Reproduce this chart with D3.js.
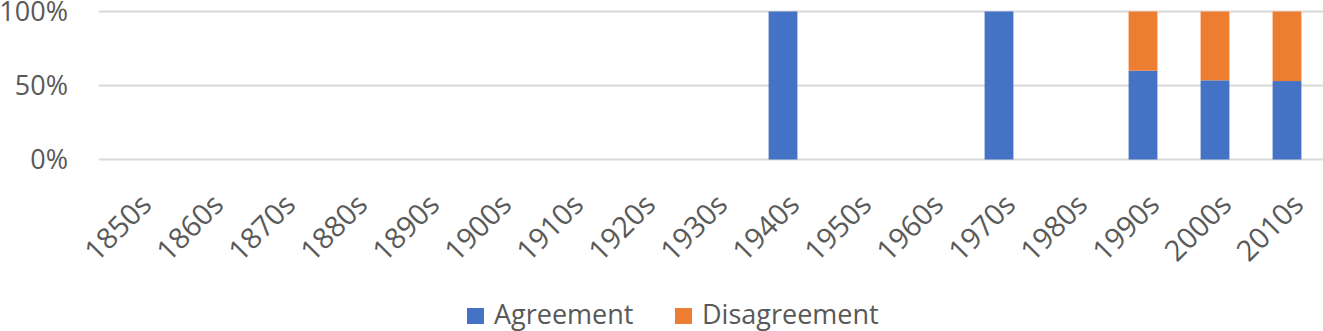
<!DOCTYPE html>
<html><head><meta charset="utf-8">
<script src="https://cdn.jsdelivr.net/npm/d3@7"></script>
<style>body{margin:0;background:#fff}svg{display:block}</style>
</head><body>
<svg id="c" width="1323" height="331"></svg>
<script>
const categories = ["1850s","1860s","1870s","1880s","1890s","1900s","1910s","1920s","1930s","1940s","1950s","1960s","1970s","1980s","1990s","2000s","2010s"];
const agreement    = [0,0,0,0,0,0,0,0,0,1,0,0,1,0,0.60,0.535,0.53];
const disagreement = [0,0,0,0,0,0,0,0,0,0,0,0,0,0,0.40,0.465,0.47];
const seriesNames = ["Agreement","Disagreement"];
const seriesColors = ["#4472C4","#ED7D31"];
const yTicks = [0,0.5,1];

const svg = d3.select("#c");
const font = "'Open Sans', sans-serif";
const x = d3.scaleBand().domain(categories).range([99,1323]).paddingInner(0.6).paddingOuter(0.3);
const y = d3.scaleLinear().domain([0,1]).range([159.5,11.5]);

svg.append("g").selectAll("line").data(yTicks).join("line")
  .attr("x1",99).attr("x2",1323).attr("y1",d=>y(d)).attr("y2",d=>y(d))
  .attr("stroke","#d9d9d9").attr("stroke-width",2);

svg.append("g").selectAll("text").data(yTicks).join("text")
  .attr("x",68).attr("y",d=>y(d)).attr("dy","0.36em").attr("text-anchor","end")
  .attr("font-family",font).attr("font-size",27).attr("fill","#595959")
  .text(d=>d3.format(".0%")(d));

const rows = categories.map((c,i)=>({cat:c, Agreement:agreement[i], Disagreement:disagreement[i]}));
const stacked = d3.stack().keys(seriesNames)(rows);
svg.append("g").selectAll("g").data(stacked).join("g")
  .attr("fill",(d,i)=>seriesColors[i])
  .selectAll("rect").data(d=>d.filter(p=>p[1]-p[0]>0)).join("rect")
  .attr("x",d=>x(d.data.cat)).attr("width",x.bandwidth())
  .attr("y",d=>y(d[1])).attr("height",d=>y(d[0])-y(d[1]));

svg.append("g").selectAll("text").data(categories).join("text")
  .attr("transform",d=>`translate(${x(d)+x.bandwidth()/2+4},${192}) rotate(-45)`)
  .attr("text-anchor","end").attr("dy","0.7em")
  .attr("font-family",font).attr("font-size",29).attr("fill","#595959")
  .text(d=>d);

const leg = svg.append("g");
const legX = [467,675];
seriesNames.forEach((n,i)=>{
  leg.append("rect").attr("x",legX[i]).attr("y",308).attr("width",17).attr("height",16).attr("fill",seriesColors[i]);
  leg.append("text").attr("x",legX[i]+27).attr("y",314).attr("dy","0.36em")
    .attr("font-family",font).attr("font-size",27).attr("fill","#595959").text(n);
});
</script>
</body></html>
